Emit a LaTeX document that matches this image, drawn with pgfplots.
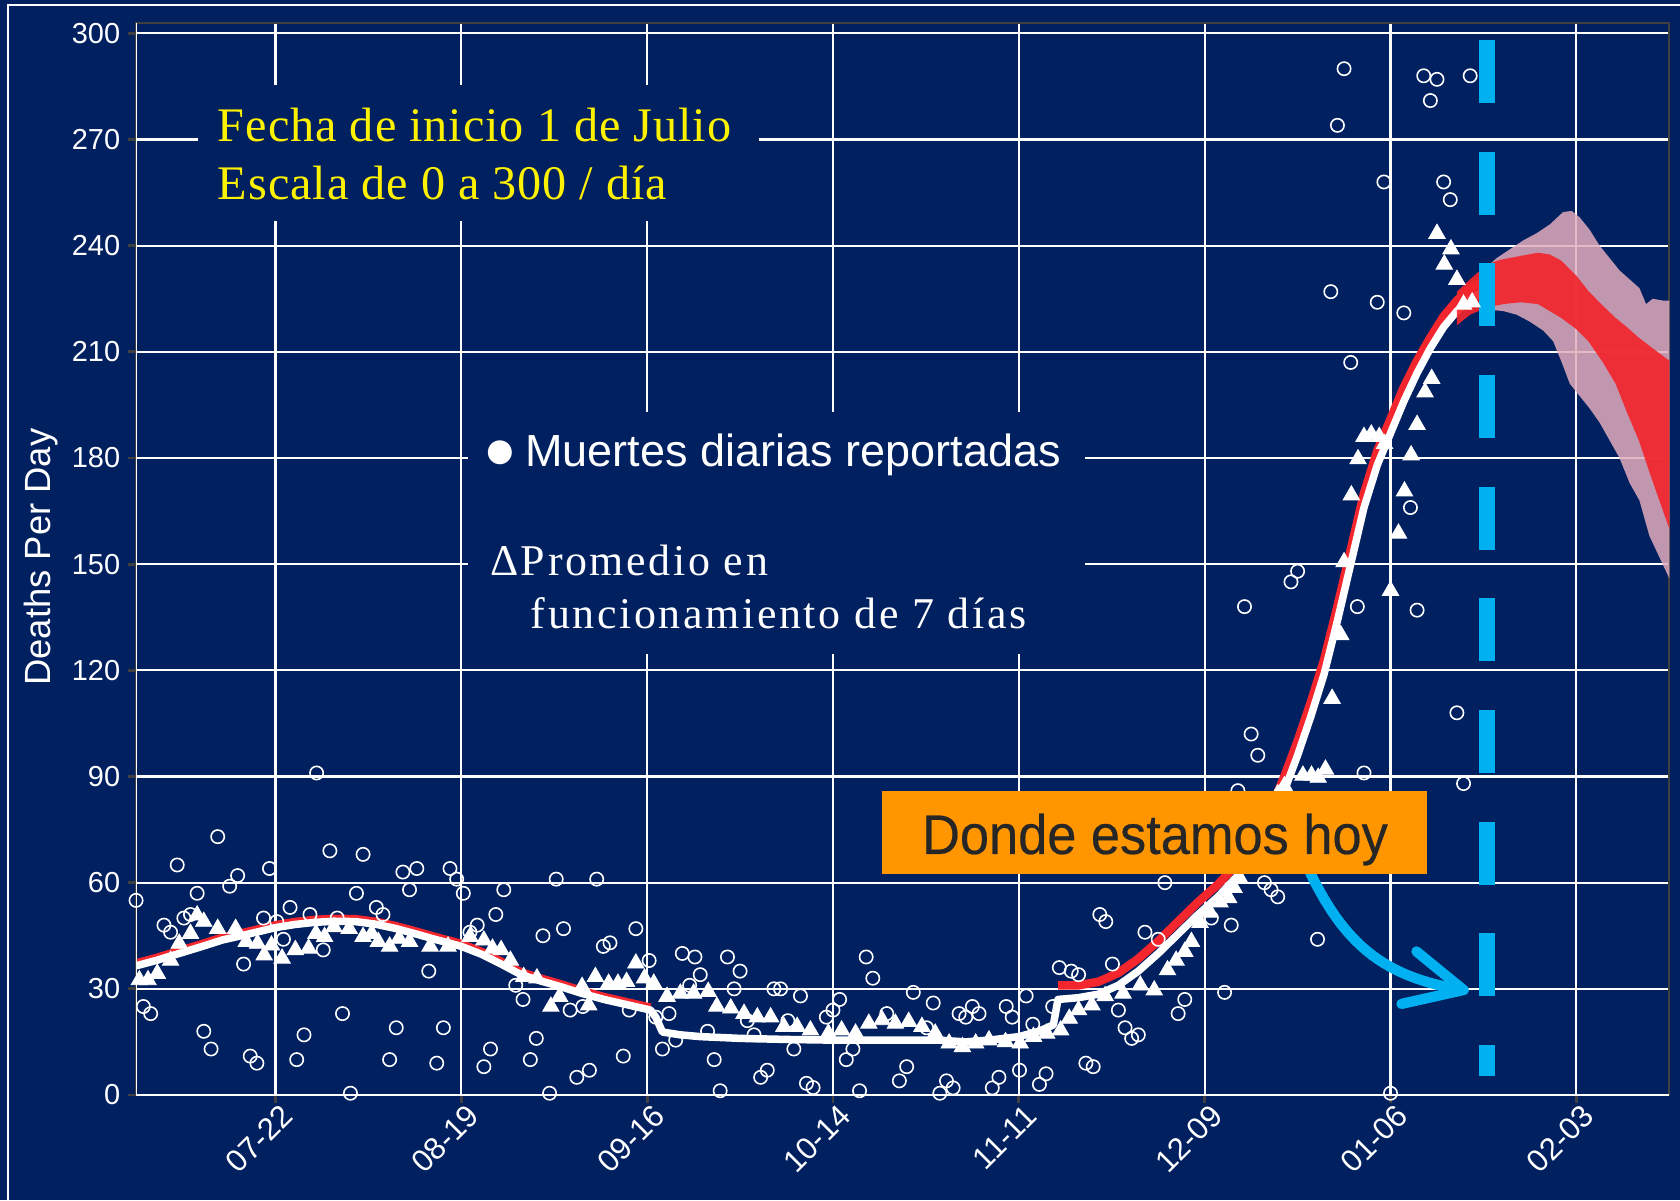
\documentclass[border=0pt]{standalone}
\usepackage{fontspec}
\setmainfont{Liberation Sans}
\newfontfamily\serif{Liberation Serif}
\newfontfamily\serifls[LetterSpace=6]{Liberation Serif}
\newfontfamily\serifly[LetterSpace=2]{Liberation Serif}
\newfontfamily\sansheavy[FakeBold=0.4]{Liberation Sans}
\usepackage{graphicx}
\usepackage{pgfplots}
\pgfplotsset{compat=1.18}
\definecolor{navy}{HTML}{002060}
\definecolor{cyanline}{HTML}{00B0F0}
\definecolor{orangebox}{HTML}{FF9600}
\definecolor{fitred}{HTML}{F2262C}
\definecolor{bandpink}{HTML}{E2ADBD}
\definecolor{darktext}{HTML}{262626}
\begin{document}
\begin{tikzpicture}
\useasboundingbox (0,0) rectangle (784pt,560pt);
\fill[navy] (0,0) rectangle (784pt,560pt);
\begin{axis}[
  at={(63.5pt,49pt)}, anchor=south west,
  scale only axis, width=715.5pt, height=500.4pt,
  xmin=0, xmax=231, ymin=0, ymax=303,
  axis line style={draw=black!75, line width=1pt},
  xtick={21,49,77,105,133,161,189,217},
  xticklabels={07-22,08-19,09-16,10-14,11-11,12-09,01-06,02-03},
  ytick={0,30,60,90,120,150,180,210,240,270,300},
  grid=major, grid style={white, line width=1pt},
  tick pos=left, tick align=outside, major tick length=3.9pt,
  tick style={black!75, line width=1.3pt},
  ticklabel style={white, font=\fontsize{13.5}{13.5}\selectfont},
  /pgf/number format/assume math mode=true,
  xticklabel style={rotate=45, anchor=east, yshift=-6.5pt, xshift=5pt, font=\fontsize{14.5}{14.5}\selectfont},
]
% daily reported deaths
\addplot[only marks, mark=o, mark size=3.1pt, mark options={white, line width=0.75pt}] coordinates {
(0,55) (1.1,25) (2.2,23) (4.2,48) (5.2,46) (6.2,65) (7.2,50) (8.2,51) (9.2,57) (10.2,18)
(11.3,13) (12.3,73) (14.1,59) (15.3,62) (16.2,37) (17.2,11) (18.2,9) (19.2,50) (20.1,64) (21.2,49)
(22.2,44) (23.2,53) (24.2,10) (25.3,17) (26.2,51) (27.2,91) (28.2,41) (29.2,69) (30.3,50) (31.1,23)
(32.3,0.5) (33.2,57) (34.2,68) (36.2,53) (37.2,51) (38.2,10) (39.2,19) (40.2,63) (41.2,58) (42.3,64)
(44.1,35) (45.3,9) (46.3,19) (47.3,64) (48.3,61) (49.3,57) (50.3,46) (51.4,48) (52.4,8) (53.4,13)
(54.2,51) (55.4,58) (57.2,31) (58.3,27) (59.4,10) (60.3,16) (61.3,45) (62.3,0.5) (63.3,61) (64.4,47)
(65.4,24) (66.4,5) (67.3,25) (68.3,7) (69.4,61) (70.4,42) (71.4,43) (73.4,11) (74.3,24) (75.3,47)
(77.3,38) (78.3,22) (79.3,13) (80.3,23) (81.3,15.5) (82.3,40) (83.4,31) (84.2,39) (85,34) (86.1,18)
(87.1,10) (88,1.2) (89.1,39) (90.1,30) (91,35) (92.1,21) (93.1,17) (94.1,5) (95.1,7) (96.1,30)
(97.1,30) (98.2,21) (99.1,13) (100.1,28) (101,3.3) (102,2.1) (104,22) (105,24) (106,27) (107,10)
(108,13) (109,1.2) (110,39) (111,33) (113.1,23) (115,4) (116.1,8) (117.1,29) (119.1,19) (120.1,26)
(121.1,0.5) (122.1,4) (123.1,2) (124,23) (125,22) (126,25) (127,23) (129,2) (130,5) (131.1,25)
(132,22) (133.1,7) (134.1,28) (135.1,20) (136.1,3) (137.1,6) (138.1,25) (139.1,36) (140.9,35) (142,34)
(143.1,9) (144.2,8) (145.2,51) (146.1,49) (147.1,37) (148,24) (149,19) (150,16) (151,17) (152,46)
(154,44) (155,60) (157,23) (158,27) (162,50) (164,29) (165,48) (166,86) (167,138) (168,102)
(169,96) (170,60) (171,58) (172,56) (174,145) (175,148) (178,44) (180,227) (181,274) (182,290)
(183,207) (184,138) (185,91) (187,224) (188,258) (189,0.5) (191,221) (192,166) (193,137) (194,288)
(195,281) (196,287) (197,258) (198,253) (199,108) (200,88) (201,288)
};
% fitted curve
\addplot[fitred, line width=3.6pt, line join=round] coordinates {
(0,37.3) (3,38.8) (6.5,40.8) (10,42.8) (13,44.6) (17,46.3) (21,48.1) (24,49) (27,49.6) (30,49.9)
(33,49.8) (36,49.1) (39,47.9) (42,46.4) (45,44.8) (49,42.8) (52,40.6) (55,37.8) (58,34.8) (61,33)
(64,31.4) (67,29.6) (70.5,27.8) (74,26.3) (77.5,24.8)
};
\addplot[fitred, line width=4pt, line join=round] coordinates {
(138.9,31) (142,31) (145,32) (148,34.5) (151,38.5) (154,43.5) (157,49) (160,54.5) (163,59.5) (166,65.5)
(169,74) (171,81) (173,90) (175,100) (177,111) (179,123) (181,138) (183,154) (185,170) (187,182)
(189,191) (191,200) (193,207.5) (195,214) (197,220) (199,224.5) (201,228) (203.5,230.5)
};
\addplot[white, line width=3.5pt, line join=round] coordinates {
(0,36.5) (3,38) (6.5,40) (10,42) (13,43.8) (17,45.5) (21,47.3) (24,48.2) (27,48.8) (30,49.1)
(33,49) (36,48.3) (39,47.1) (42,45.6) (45,44) (49,42) (52,39.8) (55,37) (58,34) (61,32.2)
(64,30.6) (67,28.8) (70.5,27) (74,25.5) (77.5,24) (78.3,22) (79.3,17.8) (82,17) (85,16.5) (91,16)
(98,15.7) (105,15.5) (113,15.5) (121,15.5) (125,15) (129,15.6) (133,16.5) (136,18) (138.2,19.8) (138.9,27)
(142,27.5) (145,28.5) (148,31) (151,35) (154,40) (157,45.5) (160,51) (163,56) (166,62) (169,70)
(171,77) (173,86) (175,96) (177,107) (179,119) (181,134) (183,150) (185,166) (187,178) (189,187)
(191,196) (193,204) (195,211) (197,217) (199,221.5) (201,225) (203.5,227.5)
};
% 7-day running average
\addplot[only marks, mark=triangle*, mark size=4.4pt, mark options={white, fill=white}] coordinates {
(0.5,32.5) (1.8,32.5) (3.2,34.3) (5.2,38) (6.5,42.8) (8.2,45.6) (9.2,50.8) (10.2,49) (12.3,47) (15,47)
(16.6,43.3) (18.3,42.8) (19.3,39.5) (20.4,42.3) (22,38.6) (24,41) (26,41.4) (27.1,45.6) (28.4,44.7) (29.8,47.5)
(32.1,47) (34.2,44.7) (35.5,45.6) (36.5,43.3) (38.2,42) (39.6,44.2) (41.2,43.3) (44.3,42) (47,42) (50.3,44.7)
(52.4,43.7) (53.7,41.4) (55,41) (56.4,38) (58.4,33.4) (60.4,33) (62.5,25) (63.8,27.8) (67.2,30.6) (68.2,25.4)
(69.2,33.4) (71.2,31.5) (72.6,31.5) (73.9,32) (75.3,37.2) (76.6,33) (78,31.5) (80,27.8) (82,28.7) (84,28.7)
(86.2,29.2) (87.5,25) (89.6,24.5) (91.6,23) (93.6,22) (95.6,22) (97.6,19.3) (99.6,19.3) (101.6,18.3) (104.3,17.4)
(106.3,18.3) (108.4,17.4) (110.4,20.2) (112.4,21.2) (114.4,20.2) (116.4,20.7) (118.4,19.3) (120.4,17.4) (122.5,14.6) (124.5,13.6)
(126.5,14.6) (128.5,15.5) (131,15) (133.2,14.6) (135.2,16.5) (137.2,17.4) (139.3,18.3) (140.6,21.6) (142,24) (144,25.4)
(146,28) (148.7,28.7) (151.3,31) (153.4,29.6) (155.4,35.3) (156.7,38) (158,40.5) (159,43.3) (160.3,48.7) (161.8,51.6)
(163.3,54.5) (164.6,55.7) (165.4,58.6) (166.2,61.5) (168,67) (170,76) (172,85) (173,87.3) (175.8,90.3) (177.1,90.3)
(178.1,89.7) (179.2,92) (180.2,112) (181.5,130) (182,150.6) (183.1,169.5) (184.1,179.7) (185,186) (186.1,186.7) (187.3,186)
(188.1,184) (189,142.5) (190.2,158.7) (191.1,170.6) (192.1,180.8) (193,189.4) (194.2,198.6) (195.2,202.4) (196,243.4) (197.1,234.7)
(198.1,239) (199,230.4) (200,223.4) (201.3,224)
};
% forecast bands
\addplot[draw=none, fill=bandpink, fill opacity=0.85] coordinates {
(203.5,234) (205,236.5) (207,239) (209,241.5) (211,243.5) (213,246) (215,249.5) (216.3,249.8) (217.5,248) (219,244.5)
(220.5,240) (222,236.5) (223.5,233) (225,230.5) (226.5,228) (227.5,223.5) (228.5,225) (230,224.5) (231,224.5)
(231,146) (229.5,152) (228,158) (226.5,168) (225,173) (223.5,180) (222,185) (220.5,190) (219,194) (217.5,197.5)
(216,201) (215,206) (213.5,213) (212,216) (210,218.5) (208,220.5) (206,221.5) (203.5,222)
};
\addplot[draw=none, fill=fitred, fill opacity=0.92] coordinates {
(199,227) (201,230.5) (203.5,234.7) (205.5,236) (208.6,237.1) (211.2,238) (213,237.5) (214.7,235.8) (217,231.5) (218.8,227.2)
(221,223) (222.9,219.6) (224.6,217) (226.4,214) (228.5,211) (231,207.5)
(231,160) (229.5,168) (228,176) (226.4,185) (224.6,193) (222.9,201) (221,207) (218.8,213) (217,216.4) (214.7,219.6)
(211.2,223.5) (208.6,224) (206,223.5) (203.5,222.5) (201,220.5) (199,217.5)
};
\draw[white, line width=1.2pt] (axis cs:0,0) -- (axis cs:231,0);
\draw[white, line width=1.2pt] (axis cs:0,0) -- (axis cs:0,303);
\draw[cyanline, line width=7.3pt, dash pattern=on 29.4pt off 22.7pt] (axis cs:203.5,298.1) -- (axis cs:203.5,5.5);
\end{axis}
\begin{scope}[shift={(0pt,560pt)}, x=0.5pt, y=-0.5pt]
% text boxes hiding the grid
\fill[navy] (185,79) rectangle (708,206);
\fill[navy] (437,385) rectangle (1013,610);
\node[anchor=base west, inner sep=0pt, text=yellow, font=\serifly\fontsize{22.5}{22.5}\selectfont] at (203,132) {Fecha de inicio 1 de Julio};
\node[anchor=base west, inner sep=0pt, text=yellow, font=\serifly\fontsize{22.5}{22.5}\selectfont] at (203,186) {Escala de 0 a 300 / día};
\node[inner sep=0pt, text=white, font=\fontsize{26}{26}\selectfont] at (466.5,424.7) {●};
\node[anchor=base west, inner sep=0pt, text=white, font=\fontsize{21}{21}\selectfont] at (490,435.5) {Muertes diarias reportadas};
\node[anchor=base west, inner sep=0pt, text=white, font=\serifls\fontsize{20.5}{20.5}\selectfont] at (457,537) {ΔPromedio en};
\node[anchor=base west, inner sep=0pt, text=white, font=\serifls\fontsize{20.5}{20.5}\selectfont] at (495,587) {funcionamiento de 7 días};
% arrow
\draw[cyanline, line width=4.8pt, line cap=round] (1223,815) .. controls (1255,880) and (1290,912) .. (1366,924);
\draw[cyanline, line width=4.8pt, line cap=round, line join=round] (1322,888) -- (1366,924) -- (1308,937);
% orange box
\fill[orangebox] (823,738) rectangle (1332,816);
\node[anchor=base, inner sep=0pt, text=darktext, font=\sansheavy\fontsize{26}{26}\selectfont] at (1078,797) {\scalebox{0.94}[1]{Donde estamos hoy}};
% y label
\node[rotate=90, text=white, font=\fontsize{17}{17}\selectfont] at (38,520) {Deaths Per Day};
% frame remnants
\draw[white, line width=0.9pt] (7.5,1120) -- (7.5,4.5) -- (1568,4.5);
\end{scope}
\end{tikzpicture}
\end{document}
